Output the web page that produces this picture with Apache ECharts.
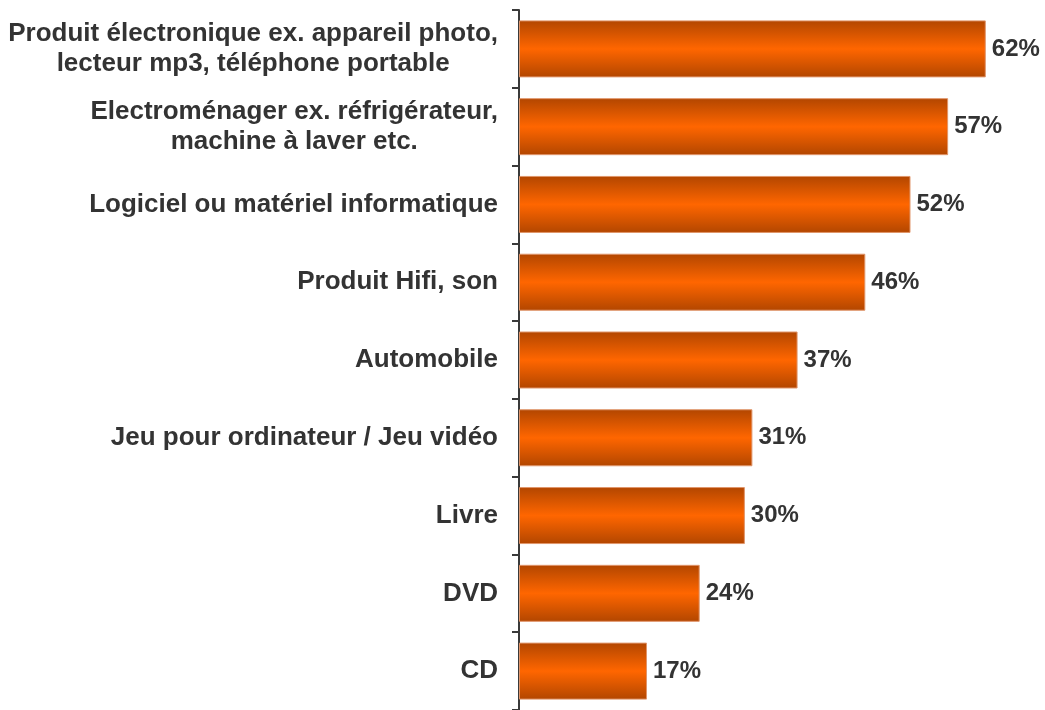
<!DOCTYPE html>
<html>
<head>
<meta charset="utf-8">
<script src="https://cdn.jsdelivr.net/npm/echarts@6/dist/echarts.min.js"></script>
<style>
html,body{margin:0;padding:0;background:#fff;}
#c{width:1045px;height:710px;}
</style>
</head>
<body>
<div id="c"></div>
<script>
const categories = [
  "Produit électronique ex. appareil photo,\nlecteur mp3, téléphone portable",
  "Electroménager ex. réfrigérateur,\nmachine à laver etc.",
  "Logiciel ou matériel informatique",
  "Produit Hifi, son",
  "Automobile",
  "Jeu pour ordinateur / Jeu vidéo",
  "Livre",
  "DVD",
  "CD"
];
const values = [62, 57, 52, 46, 37, 31, 30, 24, 17];

const chart = echarts.init(document.getElementById('c'), null, {renderer: 'canvas'});
const font = "'Liberation Sans', Arial, sans-serif";
chart.setOption({
  animation: false,
  backgroundColor: '#ffffff',
  grid: {left: 519, right: 2, top: 10, bottom: 0, containLabel: false},
  xAxis: {
    type: 'value', min: 0, max: 69.6,
    show: false
  },
  yAxis: {
    type: 'category',
    data: categories,
    inverse: true,
    axisLine: {show: true, lineStyle: {color: '#3a3a3a', width: 2}},
    axisTick: {show: true, length: 7, lineStyle: {color: '#3a3a3a', width: 2}},
    axisLabel: {
      margin: 21,
      color: '#333333',
      fontFamily: font,
      fontWeight: 'bold',
      fontSize: 26,
      lineHeight: 30,
      formatter: function (v) {
        return v.split('\n').map(function (s) { return '{c|' + s + '}'; }).join('\n');
      },
      rich: {
        c: {align: 'center', color: '#333333', fontFamily: font, fontWeight: 'bold', fontSize: 26, lineHeight: 30}
      }
    },
    splitLine: {show: false}
  },
  series: [{
    type: 'bar',
    data: values,
    barWidth: 57,
    itemStyle: {
      color: new echarts.graphic.LinearGradient(0, 0, 0, 1, [
        {offset: 0, color: '#b24600'},
        {offset: 0.5, color: '#ff6600'},
        {offset: 1, color: '#b24600'}
      ]),
      borderColor: '#e0956a',
      borderWidth: 1
    },
    label: {
      show: true,
      position: 'right',
      distance: 6,
      formatter: '{c}%',
      color: '#333333',
      fontFamily: font,
      fontWeight: 'bold',
      fontSize: 24
    }
  }]
});
</script>
</body>
</html>
